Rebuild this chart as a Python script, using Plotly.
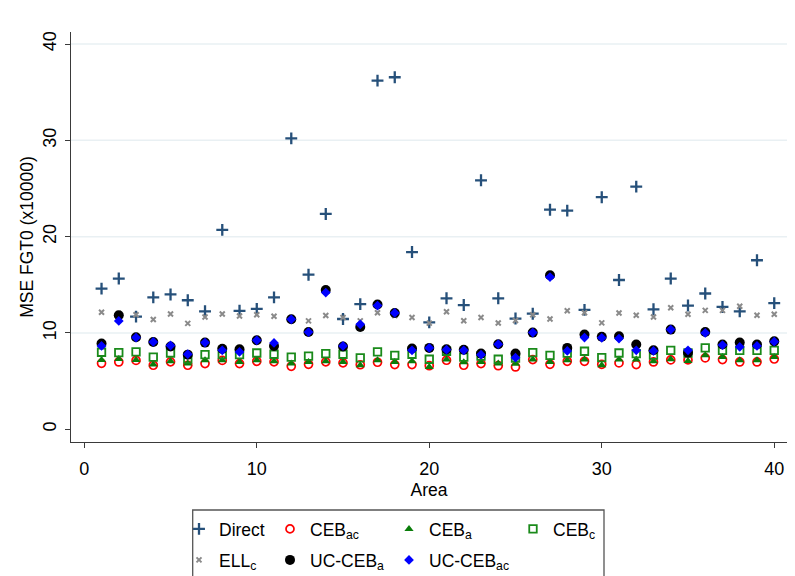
import plotly.graph_objects as go

area = list(range(1, 41))

direct = [14.6, 15.65, 11.7, 13.7, 14.0, 13.4, 12.25, 20.7, 12.3, 12.5,
          13.7, 30.2, 16.05, 22.36, 11.45, 13.0, 36.2, 36.55, 18.4, 11.1,
          13.6, 12.9, 25.85, 13.6, 11.5, 12.0, 22.8, 22.7, 12.4, 24.1,
          15.5, 25.2, 12.46, 15.65, 12.85, 14.1, 12.7, 12.25, 17.55, 13.1]

ceb_ac = [6.85, 6.99, 7.15, 6.65, 7.0, 6.65, 6.82, 7.15, 6.82, 7.06,
          7.0, 6.54, 6.75, 7.0, 6.9, 6.7, 6.96, 6.72, 6.72, 6.6,
          7.17, 6.65, 6.82, 6.6, 6.47, 7.24, 6.75, 7.06, 7.06, 6.75,
          6.89, 6.72, 6.99, 7.2, 7.2, 7.41, 7.24, 6.99, 6.99, 7.3]

ceb_a = [7.2, 7.3, 7.2, 6.72, 7.06, 6.82, 7.17, 7.17, 6.99, 7.17,
         7.06, 6.82, 6.99, 7.06, 6.99, 6.65, 7.17, 6.99, 7.06, 6.47,
         7.24, 6.96, 6.99, 6.82, 6.8, 7.24, 6.99, 7.17, 7.24, 6.65,
         7.24, 7.24, 7.06, 7.27, 7.1, 7.68, 7.51, 7.17, 7.17, 7.5]

ceb_c = [8.0, 7.96, 8.03, 7.5, 7.92, 7.3, 7.75, 7.75, 7.75, 7.92,
         7.79, 7.5, 7.6, 7.86, 7.79, 7.41, 8.03, 7.68, 7.79, 7.27,
         8.1, 7.5, 7.6, 7.27, 7.4, 7.96, 7.68, 7.9, 8.1, 7.44,
         7.92, 7.86, 7.7, 8.2, 7.92, 8.45, 8.2, 8.2, 8.2, 8.2]

ell_c = [12.15, 12.0, 11.9, 11.4, 11.97, 11.0, 11.66, 11.97, 11.76, 11.9,
         11.73, 11.3, 11.26, 11.82, 11.6, 11.26, 12.1, 11.8, 11.6, 11.02,
         12.2, 11.27, 11.6, 11.03, 11.3, 11.9, 11.45, 12.3, 12.1, 11.05,
         12.08, 11.84, 11.66, 12.62, 11.94, 12.35, 12.35, 12.78, 11.84, 11.94]

uc_ceb_a = [8.9, 11.84, 9.55, 9.07, 8.6, 7.75, 9.0, 8.35, 8.3, 9.24,
            8.65, 11.42, 10.1, 14.45, 8.6, 10.62, 12.95, 12.08, 8.38, 8.45,
            8.3, 8.25, 7.86, 8.83, 7.86, 10.04, 16.0, 8.45, 9.83, 9.6,
            9.66, 8.8, 8.2, 10.35, 7.95, 10.1, 8.8, 9.0, 8.8, 9.13]

uc_ceb_ac = [8.65, 11.25, 9.52, 9.07, 8.7, 7.8, 9.0, 8.2, 8.03, 9.24,
             8.96, 11.42, 10.1, 14.2, 8.65, 10.9, 12.85, 12.08, 8.2, 8.45,
             8.27, 8.2, 7.75, 8.83, 7.44, 10.04, 15.8, 8.13, 9.52, 9.5,
             9.42, 8.2, 8.13, 10.35, 8.2, 10.0, 8.75, 8.55, 8.65, 9.1]

tick_vals = [0, 10, 20, 30, 40]
grid_vals = [10, 20, 30, 40]

FONT = "Liberation Sans, Arial, sans-serif"

series = [
    ("Direct", direct, dict(symbol="cross-thin", size=8.5, color="#26507a",
                             line=dict(width=2.3, color="#26507a")), "legend"),
    ("CEB<sub>ac</sub>", ceb_ac, dict(symbol="circle-open", size=8, color="#ff0000",
                                      line=dict(width=1.7, color="#ff0000")), "legend2"),
    ("CEB<sub>a</sub>", ceb_a, dict(symbol="triangle-up", size=8, color="#0a7d0a",
                                    line=dict(width=0)), "legend3"),
    ("CEB<sub>c</sub>", ceb_c, dict(symbol="square-open", size=7.5, color="#1a8a1a",
                                    line=dict(width=1.8, color="#1a8a1a")), "legend4"),
    ("ELL<sub>c</sub>", ell_c, dict(symbol="x-thin", size=5, color="#8a8a8a",
                                    line=dict(width=2, color="#8a8a8a")), "legend5"),
    ("UC-CEB<sub>a</sub>", uc_ceb_a, dict(symbol="circle", size=10, color="#000000",
                                          line=dict(width=0)), "legend6"),
    ("UC-CEB<sub>ac</sub>", uc_ceb_ac, dict(symbol="diamond", size=7.5, color="#0000ff",
                                            line=dict(width=0)), "legend7"),
]

fig = go.Figure()
for name, vals, marker, leg in series:
    fig.add_trace(go.Scatter(x=area, y=vals, mode="markers", name=name,
                             marker=marker, legend=leg))

# page offset (body margin) compensation: screen px -> figure px
OFF = 8
L, R, T, B = 71 - OFF, 787 - OFF, 32 - OFF, 442 - OFF
W, H = 795, 576
pw, ph = R - L, B - T

def px_x(p):
    return (p - OFF - L) / pw

def px_y(p):
    return (B - (p - OFF)) / ph

col_left = [179, 270, 389, 513]
row_y = [529, 560]
positions = [(0, 0), (1, 0), (2, 0), (3, 0), (0, 1), (1, 1), (2, 1)]
legends = {}
for i, (c, r) in enumerate(positions):
    key = "legend" if i == 0 else f"legend{i+1}"
    legends[key] = dict(
        x=px_x(col_left[c]), y=px_y(row_y[r]), xanchor="left", yanchor="middle",
        orientation="v", bgcolor="rgba(0,0,0,0)", borderwidth=0,
        font=dict(family=FONT, size=17.5, color="#000000"),
        itemclick=False, itemdoubleclick=False,
    )

shapes = []
for g in grid_vals:
    shapes.append(dict(type="line", xref="paper", yref="y", x0=0, x1=1, y0=g, y1=g,
                       line=dict(color="#e9f0f3", width=1.5), layer="below"))
shapes.append(dict(type="rect", xref="paper", yref="paper",
                   x0=px_x(192.7), x1=px_x(604), y0=px_y(510), y1=px_y(600),
                   line=dict(color="#555555", width=1.3), fillcolor="rgba(0,0,0,0)"))

fig.update_layout(
    width=W, height=H,
    margin=dict(l=L, r=W - R, t=T, b=H - B, autoexpand=False),
    paper_bgcolor="white", plot_bgcolor="white",
    font=dict(family=FONT, size=18, color="#000000"),
    showlegend=True,
    shapes=shapes,
    **legends,
)

fig.update_xaxes(
    range=[-0.77, 40.74], tickvals=tick_vals, ticktext=[str(v) for v in tick_vals],
    showgrid=False, zeroline=False, showline=True, linecolor="#3a3a3a", linewidth=1.3,
    ticks="outside", ticklen=5, tickwidth=1.3, tickcolor="#3a3a3a",
    tickfont=dict(family=FONT, size=18), ticklabelstandoff=5,
    title=dict(text="Area", font=dict(family=FONT, size=17.5), standoff=5),
    automargin=False,
)
fig.update_yaxes(
    range=[-1.32, 41.25], tickvals=tick_vals, ticktext=[str(v) for v in tick_vals],
    showgrid=False, zeroline=False, showline=True, linecolor="#3a3a3a", linewidth=1.3,
    ticks="outside", ticklen=5, tickwidth=1.3, tickcolor="#3a3a3a",
    tickangle=-90, tickfont=dict(family=FONT, size=18), ticklabelstandoff=2,
    title=dict(text="MSE FGT0 (x10000)", font=dict(family=FONT, size=17.5), standoff=1),
    automargin=False,
)

fig.write_html("out.html")
